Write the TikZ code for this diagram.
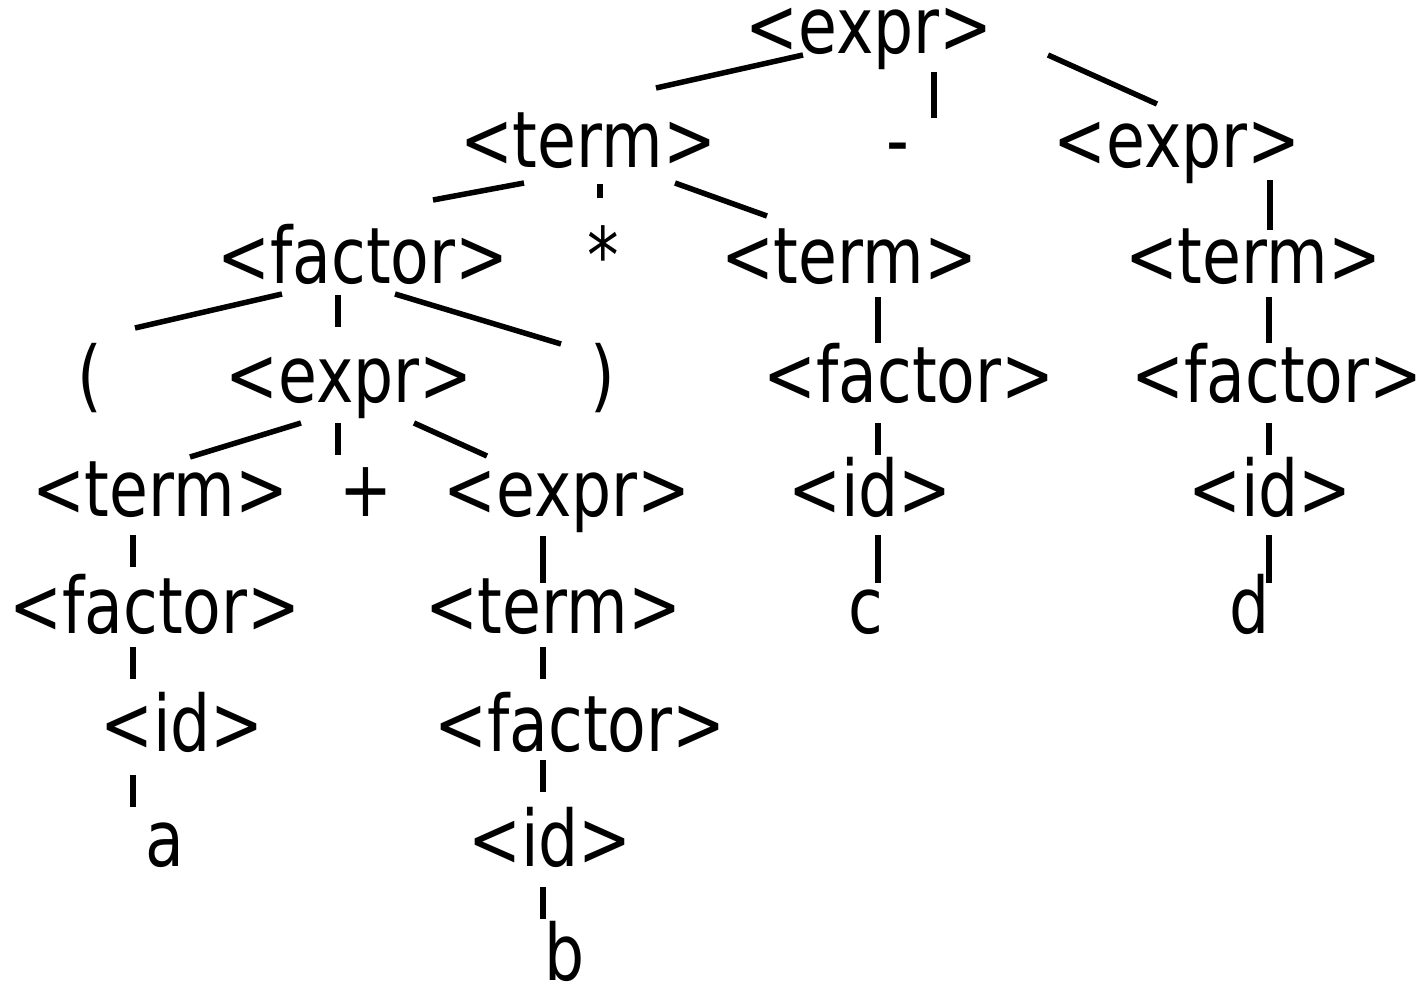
\documentclass[tikz,border=0pt]{standalone}
\usepackage{fontspec}
\setmainfont[FakeStretch=0.81]{DejaVu Sans}
\begin{document}
\begin{tikzpicture}[x=1pt,y=-1pt,
  lbl/.style={anchor=base,inner sep=0pt,font=\fontsize{78}{92}\selectfont},
  edge/.style={line width=5.5pt}]
\useasboundingbox (0,0) rectangle (1425,985);
% row 0
\node[lbl] (e0) at (869,53) {<expr>};
% row 1
\node[lbl] (t1) at (588,167) {<term>};
\node[lbl] (minus) at (898,167) {-};
\node[lbl] (e1) at (1177,167) {<expr>};
% row 2
\node[lbl] (f2) at (363,283) {<factor>};
\node[lbl] (star) at (603,283) {*};
\node[lbl] (t2) at (849,283) {<term>};
\node[lbl] (t2r) at (1253,283) {<term>};
% row 3
\node[lbl] (lp) at (90,402) {(};
\node[lbl] (e3) at (349,402) {<expr>};
\node[lbl] (rp) at (603,402) {)};
\node[lbl] (f3) at (909,402) {<factor>};
\node[lbl] (f3r) at (1277,402) {<factor>};
% row 4
\node[lbl] (t4) at (160,516) {<term>};
\node[lbl] (plus) at (366,516) {+};
\node[lbl] (e4) at (567,516) {<expr>};
\node[lbl] (i4) at (870,516) {<id>};
\node[lbl] (i4r) at (1270,516) {<id>};
% row 5
\node[lbl] (f5) at (155,633) {<factor>};
\node[lbl] (t5) at (553,633) {<term>};
\node[lbl] (c) at (866,633) {c};
\node[lbl] (d) at (1250,633) {d};
% row 6
\node[lbl] (i6) at (182,751) {<id>};
\node[lbl] (f6) at (580,751) {<factor>};
% row 7
\node[lbl] (a) at (165,866) {a};
\node[lbl] (i7) at (550,866) {<id>};
% row 8
\node[lbl] (b) at (565,980) {b};
% connectors
\draw[edge] (803,55) -- (656,88);
\draw[edge] (934,72) -- (934,118);
\draw[edge] (1048,55) -- (1157,104);
\draw[edge] (524,183) -- (433,200);
\draw[edge] (600,184) -- (600,198);
\draw[edge] (675,183) -- (767,216);
\draw[edge] (1270,180) -- (1270,230);
\draw[edge] (282,294) -- (135,328);
\draw[edge] (338,295) -- (338,327);
\draw[edge] (395,294) -- (561,344);
\draw[edge] (878,297) -- (878,343);
\draw[edge] (1269,297) -- (1269,343);
\draw[edge] (301,423) -- (190,457);
\draw[edge] (338,423) -- (338,455);
\draw[edge] (414,423) -- (487,456);
\draw[edge] (878,423) -- (878,455);
\draw[edge] (1269,423) -- (1269,455);
\draw[edge] (133,535) -- (133,567);
\draw[edge] (543,536) -- (543,583);
\draw[edge] (878,535) -- (878,583);
\draw[edge] (1269,535) -- (1269,583);
\draw[edge] (133,647) -- (133,679);
\draw[edge] (543,647) -- (543,679);
\draw[edge] (133,775) -- (133,807);
\draw[edge] (543,760) -- (543,792);
\draw[edge] (543,887) -- (543,919);
\end{tikzpicture}
\end{document}
